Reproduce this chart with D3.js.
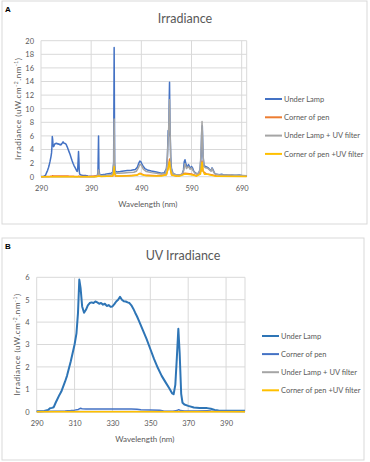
<!DOCTYPE html>
<html>
<head>
<meta charset="utf-8">
<script src="https://cdn.jsdelivr.net/npm/d3@7"></script>
<style>
  body { margin: 0; background: #fff; }
  text { font-family: Lato, "Open Sans", sans-serif; fill: #595959; }
</style>
</head>
<body>
<svg id="fig" width="370" height="462"></svg>
<script>
// ---- data ----
var seriesNames = ['Under Lamp', 'Corner of pen', 'Under Lamp + UV filter', 'Corner of pen +UV filter'];

// under lamp, UV part (290-400 nm)
var lampUVWave = [290,292,294,296,297,298,299,300,302,303,305,306,308,310,311,311.8,312.5,313.2,314,315,316,317,318,319,320,321,322,323,324,325,326,327,328,329,330,331,332,333,334,335,336,337,338,339,340,341,342,343,344,346,348,350,352,354,356,358,360,361.5,362.3,363.2,364,364.8,365.5,366.3,367,368,370,373,376,380,382,384,386,390,395,400];
var lampUV = [0.02,0.02,0.03,0.08,0.15,0.17,0.2,0.4,0.75,0.9,1.35,1.6,2.25,3.0,3.5,4.4,5.9,5.5,4.7,4.42,4.55,4.75,4.85,4.88,4.85,4.92,4.88,4.82,4.85,4.78,4.82,4.72,4.76,4.68,4.7,4.8,4.92,5.0,5.13,5.0,4.93,4.92,4.88,4.85,4.75,4.6,4.42,4.25,4.05,3.65,3.25,2.8,2.35,1.95,1.6,1.32,1.05,0.82,0.78,1.2,2.4,3.7,2.6,0.8,0.4,0.32,0.26,0.19,0.16,0.16,0.13,0.08,0.05,0.04,0.04,0.04];

// under lamp, visible part (400-700 nm)
var lampVisWave = [402,403.5,404.7,405.5,407,412,418,424,430,433,434.8,435.8,436.8,438,442,448,455,462,470,478,482,485,487,489,491,494,497,502,510,520,530,536,540,542,543.5,544.5,545.5,546.2,547,548.5,550,553,558,565,571,574,575.5,577,578.5,580,582,584,586,588,590,592,594,597,600,604,607,609,610.5,611.5,613,615,618,621,624,627,629,631,633,636,640,645,650,655,660,665,670,675,680,685,690,695,700];
var lampVis = [0.1,0.6,6.0,1.0,0.3,0.3,0.35,0.45,0.5,0.7,2.0,19.0,2.0,0.8,0.7,0.75,0.85,0.9,0.95,1.05,1.4,2.0,2.3,2.2,1.9,1.5,1.2,1.0,0.85,0.7,0.5,0.6,1.2,3.0,6.8,6.0,11.0,13.9,8.0,3.0,1.2,0.5,0.3,0.25,0.3,1.0,2.2,2.5,2.0,1.6,1.4,1.8,1.5,1.2,1.5,1.3,0.9,0.6,0.45,0.5,1.0,3.0,7.0,7.5,3.0,1.6,1.5,1.4,1.25,1.0,0.9,1.3,1.0,0.5,0.35,0.3,0.35,0.25,0.3,0.22,0.25,0.2,0.2,0.25,0.18,0.15,0.12];

// corner of pen
var penUVWave = [290,300,305,308,310,312,313,314,316,330,340,343,345,350,355,357,362,364,365,366,368,375,380,382,386,400];
var penUV = [0.01,0.02,0.03,0.05,0.07,0.1,0.15,0.13,0.12,0.12,0.12,0.11,0.09,0.08,0.06,0.03,0.02,0.05,0.09,0.05,0.03,0.03,0.04,0.03,0.02,0.01];
var penVisWave = [404.7,410,433,435.8,438,450,480,487,495,520,540,543.5,546.2,548,550,560,577,590,600,609,611,613,620,630,640,700];
var penVis = [0.15,0.05,0.1,1.3,0.1,0.12,0.2,0.5,0.25,0.15,0.3,1.3,2.6,1.2,0.3,0.1,0.5,0.4,0.15,0.8,2.3,0.8,0.4,0.3,0.1,0.05];

// under lamp + UV filter
var lampFiltWave = [290,340,398,401,403.5,404.7,406,410,420,430,433,435,435.8,436.6,438,445,455,465,475,480,484,487,490,494,500,510,520,530,538,541,543.5,545,546.2,547.5,549,552,560,570,574,577,580,584,587,590,593,597,603,607,609,611,612.5,614.5,618,622,626,629,631,634,638,645,655,665,675,685,700];
var lampFilt = [0.01,0.01,0.01,0.05,0.3,1.0,0.3,0.15,0.2,0.3,0.5,2.0,8.5,2.0,0.5,0.5,0.55,0.6,0.65,0.8,1.3,1.8,1.7,1.1,0.75,0.6,0.5,0.4,0.5,1.5,5.5,8.0,11.3,6.0,1.5,0.5,0.25,0.25,0.8,1.9,1.2,1.5,1.1,1.3,0.9,0.5,0.4,1.0,3.5,8.1,4.0,1.5,1.3,1.25,1.0,0.8,1.2,0.7,0.35,0.3,0.25,0.28,0.2,0.22,0.15];

// corner of pen + UV filter
var penFiltWave = [290,400,404.7,410,433,435,435.8,436.6,440,470,482,487,492,500,530,540,543.5,546.2,548,551,565,577,590,600,608,611,613,616,622,630,640,700];
var penFilt = [0,0,0.1,0.02,0.1,0.5,1.5,0.5,0.1,0.15,0.25,0.45,0.3,0.15,0.1,0.3,1.2,2.2,1.0,0.2,0.05,0.4,0.3,0.1,0.4,2.1,0.8,0.35,0.35,0.2,0.05,0.02];

var ticksA = [290, 390, 490, 590, 690];
var ticksB = [290, 310, 330, 350, 370, 390];

function pairs(w, v) { return w.map(function(x, i) { return [x, v[i]]; }); }

var svg = d3.select('#fig');

function drawChart(cfg) {
    var g = svg.append('g');

    // outer frame
    g.append('rect')
        .attr('x', cfg.frame[0]).attr('y', cfg.frame[1])
        .attr('width', cfg.frame[2]).attr('height', cfg.frame[3])
        .attr('fill', 'none').attr('stroke', '#d9d9d9').attr('stroke-width', 1);

    g.append('text')
        .attr('x', cfg.frame[0] + 3).attr('y', cfg.frame[1] + 11)
        .style('font-family', 'Liberation Sans, Arial, sans-serif')
        .style('font-weight', 'bold').style('font-size', '8px').style('fill', '#000')
        .text(cfg.letter);

    var x = d3.scaleLinear().domain(cfg.xDomain).range([cfg.left, cfg.right]);
    var y = d3.scaleLinear().domain(cfg.yDomain).range([cfg.bottom, cfg.top]);

    // gridlines
    g.selectAll('line.hg').data(y.ticks(cfg.yTicks)).enter().append('line')
        .attr('x1', cfg.left).attr('x2', cfg.right)
        .attr('y1', function(d) { return y(d); }).attr('y2', function(d) { return y(d); })
        .attr('stroke', '#d9d9d9').attr('stroke-width', 1);
    g.selectAll('line.vg').data(cfg.xTicks.concat([cfg.xDomain[1]])).enter().append('line')
        .attr('y1', cfg.top).attr('y2', cfg.bottom)
        .attr('x1', function(d) { return x(d); }).attr('x2', function(d) { return x(d); })
        .attr('stroke', '#d9d9d9').attr('stroke-width', 1);

    // axes (labels only, like Excel)
    var xAxis = g.append('g').attr('transform', 'translate(0,' + (cfg.bottom + 5) + ')')
        .call(d3.axisBottom(x).tickValues(cfg.xTicks).tickSize(0).tickPadding(4));
    var yAxis = g.append('g').attr('transform', 'translate(' + (cfg.left - 4) + ',0)')
        .call(d3.axisLeft(y).ticks(cfg.yTicks).tickSize(0).tickPadding(3));
    [xAxis, yAxis].forEach(function(a) {
        a.select('.domain').remove();
        a.selectAll('text').style('font-size', '7.5px').style('fill', '#595959')
            .style('font-family', 'Lato, sans-serif');
    });

    // series
    var line = d3.line().x(function(d) { return x(d[0]); }).y(function(d) { return y(d[1]); });
    cfg.series.forEach(function(s, i) {
        g.append('path').datum(s)
            .attr('d', line)
            .attr('fill', 'none')
            .attr('stroke', cfg.colors[i])
            .attr('stroke-width', cfg.widths[i])
            .attr('stroke-linejoin', 'round');
    });

    // titles
    g.append('text')
        .attr('x', cfg.titleX).attr('y', cfg.titleY)
        .attr('text-anchor', 'middle')
        .style('font-size', '12.5px')
        .text(cfg.title);
    g.append('text')
        .attr('x', (cfg.left + cfg.right) / 2 + 4).attr('y', cfg.bottom + 30)
        .attr('text-anchor', 'middle')
        .style('font-size', '8px')
        .text('Wavelength (nm)');
    var yt = g.append('text')
        .attr('transform', 'translate(' + cfg.yTitleX + ',' + ((cfg.top + cfg.bottom) / 2) + ') rotate(-90)')
        .attr('text-anchor', 'middle')
        .style('font-size', '8px')
        .style('letter-spacing', '0.6px');
    yt.append('tspan').text('Irradiance (uW.cm');
    yt.append('tspan').attr('baseline-shift', 'super').style('font-size', '5px').text('-2');
    yt.append('tspan').text('.nm');
    yt.append('tspan').attr('baseline-shift', 'super').style('font-size', '5px').text('-1');
    yt.append('tspan').text(')');

    // legend
    var lg = g.selectAll('g.leg').data(seriesNames).enter().append('g')
        .attr('transform', function(d, i) { return 'translate(' + cfg.legX + ',' + (cfg.legY + i * cfg.legStep) + ')'; });
    lg.append('line').attr('x1', 0).attr('x2', 17).attr('y1', 0).attr('y2', 0)
        .attr('stroke', function(d, i) { return cfg.colors[i]; })
        .attr('stroke-width', 2);
    lg.append('text').attr('x', 19).attr('y', 2.8)
        .style('font-size', '7.5px')
        .text(function(d) { return d; });
}

drawChart({
    letter: 'A', frame: [2, 1, 365, 223],
    xDomain: [290, 700], yDomain: [0, 20], xTicks: ticksA, yTicks: 10,
    left: 41, right: 246.7, top: 40.7, bottom: 176.7,
    title: 'Irradiance', titleX: 185, titleY: 23, yTitleX: 21,
    legX: 265, legY: 99, legStep: 18.3,
    colors: ['#4472C4', '#ED7D31', '#A5A5A5', '#FFC000'],
    widths: [1.5, 1.5, 1.5, 1.5],
    series: [
        pairs(lampUVWave.slice(0, -1).concat(lampVisWave), lampUV.slice(0, -1).concat(lampVis)),
        pairs(penUVWave.slice(0, -1).concat(penVisWave), penUV.slice(0, -1).concat(penVis)),
        pairs(lampFiltWave, lampFilt),
        pairs(penFiltWave, penFilt)
    ]
});

drawChart({
    letter: 'B', frame: [2, 238, 362, 222],
    xDomain: [290, 400], yDomain: [0, 6], xTicks: ticksB, yTicks: 6,
    left: 36.7, right: 245, top: 277.3, bottom: 411.7,
    title: 'UV Irradiance', titleX: 183, titleY: 260, yTitleX: 20,
    legX: 262, legY: 336, legStep: 18.1,
    colors: ['#2E75B6', '#4472C4', '#A5A5A5', '#FFC000'],
    widths: [2, 1.5, 1.5, 1.5],
    series: [
        pairs(lampUVWave, lampUV),
        pairs(penUVWave, penUV),
        pairs([290, 320, 350, 400], [0.01, 0.01, 0.01, 0.01]),
        pairs([290, 400], [0, 0])
    ]
});
</script>
</body>
</html>
